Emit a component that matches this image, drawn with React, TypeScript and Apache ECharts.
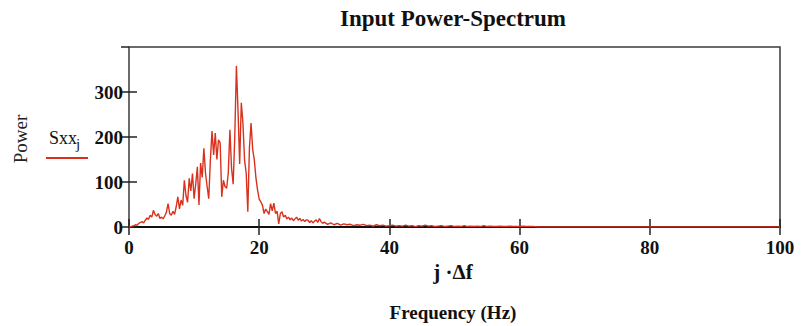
import React, { useEffect, useRef } from "react";
import * as echarts from "echarts";

// Power spectrum, 0..30 Hz at 0.25 Hz steps
const lowStart = 0;
const lowStep = 0.25;
const lowPower = [
  0, 1, 2, 3,
  5, 4, 8, 10,
  12, 9, 15, 20,
  17, 26, 22, 37,
  28, 24, 30, 19,
  22, 18, 25, 33,
  52, 30, 26, 35,
  28, 45, 67, 40,
  60, 48, 104, 70,
  55, 108, 80, 119,
  63, 95, 134, 49,
  142, 110, 175, 120,
  90, 63, 149, 213,
  160, 209, 150, 194,
  187, 67, 104, 90,
  86, 120, 216, 131,
  95, 201, 358, 257,
  140, 276, 231, 149,
  120, 34, 176, 231,
  172, 149, 109, 82,
  62, 56, 48, 30,
  40, 34, 28, 52,
  36, 53, 30, 35,
  7, 30, 34, 22,
  26, 18, 22, 16,
  20, 14, 18, 22,
  15, 19, 13, 17,
  12, 16, 15, 10,
  14, 9, 13, 16,
  10, 19, 12, 8,
  11,
];

// 30.5..62 Hz at 0.5 Hz steps
const midStart = 30.5;
const midStep = 0.5;
const midPower = [
  6, 9, 5, 8, 4, 7, 5, 6, 3, 5,
  4, 6, 3, 4, 2, 5, 3, 4, 2, 3,
  4, 2, 3, 2, 4, 2, 3, 1, 3, 2,
  4, 2, 3, 1, 2, 3, 1, 2, 3, 1,
  2, 1, 3, 1, 2, 1, 2, 1, 3, 1,
  2, 1, 1, 2, 1, 1, 2, 1, 1, 1,
  2, 1, 1, 1,
];

const tailFreq = [63, 100];
const tailPower = [0, 0];

const xTicks = [0, 20, 40, 60, 80, 100];
const yTicks = [0, 100, 200, 300];

const serif = "'Liberation Serif', 'Times New Roman', serif";

export default function App() {
  const ref = useRef<HTMLDivElement>(null);

  useEffect(() => {
    if (!ref.current) return;
    const chart = echarts.init(ref.current, null, { renderer: "svg" });

    const data: [number, number][] = [];
    lowPower.forEach((v, i) => data.push([lowStart + i * lowStep, v]));
    midPower.forEach((v, i) => data.push([midStart + i * midStep, v]));
    tailPower.forEach((v, i) => data.push([tailFreq[i], v]));

    const xMin = xTicks[0];
    const xMax = xTicks[xTicks.length - 1];
    const xInt = xTicks[1] - xTicks[0];
    const yInt = yTicks[1] - yTicks[0];

    const axisCommon = {
      axisLine: { show: false },
      splitLine: { show: false },
    };
    const tick = { show: true, inside: true, length: 8, lineStyle: { color: "#222", width: 1.5 } };

    chart.setOption({
      animation: false,
      backgroundColor: "#ffffff",
      grid: {
        left: 129,
        right: 21,
        top: 47,
        bottom: 99,
        show: true,
        borderColor: "#3a3a3a",
        borderWidth: 1.5,
        backgroundColor: "transparent",
      },
      xAxis: [
        {
          type: "value",
          min: xMin,
          max: xMax,
          interval: xInt,
          position: "bottom",
          ...axisCommon,
          axisLine: { show: true, onZero: false, lineStyle: { color: "#111", width: 2 } },
          axisTick: tick,
          axisLabel: {
            show: true,
            margin: 11,
            color: "#111",
            fontFamily: serif,
            fontSize: 19,
            fontWeight: "bold",
          },
        },
        {
          type: "value",
          min: xMin,
          max: xMax,
          interval: xInt,
          position: "top",
          ...axisCommon,
          axisTick: tick,
          axisLabel: { show: false },
        },
      ],
      yAxis: [
        {
          type: "value",
          min: 0,
          max: 400,
          interval: yInt,
          position: "left",
          ...axisCommon,
          axisTick: tick,
          axisLabel: {
            show: true,
            showMaxLabel: false,
            margin: 6,
            color: "#111",
            fontFamily: serif,
            fontSize: 19,
            fontWeight: "bold",
          },
        },
        {
          type: "value",
          min: 0,
          max: 400,
          interval: yInt,
          position: "right",
          ...axisCommon,
          axisTick: tick,
          axisLabel: { show: false },
        },
      ],
      series: [
        {
          type: "line",
          xAxisIndex: 0,
          yAxisIndex: 0,
          data,
          showSymbol: false,
          symbol: "none",
          clip: true,
          lineStyle: { color: "#d8321f", width: 1.4 },
          z: 3,
        },
      ],
      graphic: [
        {
          type: "text",
          x: 453,
          y: 18,
          style: {
            text: "Input Power-Spectrum",
            fontFamily: serif,
            fontSize: 23,
            fontWeight: "bold",
            fill: "#111",
            align: "center",
            verticalAlign: "middle",
          },
        },
        {
          type: "text",
          x: 453,
          y: 272,
          style: {
            text: "j ·Δf",
            fontFamily: serif,
            fontSize: 21,
            fontWeight: "bold",
            fill: "#111",
            align: "center",
            verticalAlign: "middle",
          },
        },
        {
          type: "text",
          x: 453,
          y: 312,
          style: {
            text: "Frequency (Hz)",
            fontFamily: serif,
            fontSize: 19,
            fontWeight: "bold",
            fill: "#111",
            align: "center",
            verticalAlign: "middle",
          },
        },
        {
          type: "text",
          x: 20,
          y: 139,
          rotation: Math.PI / 2,
          style: {
            text: "Power",
            fontFamily: serif,
            fontSize: 19,
            fill: "#222",
            align: "center",
            verticalAlign: "middle",
          },
        },
        {
          type: "text",
          x: 49,
          y: 138,
          style: {
            text: "Sxx",
            fontFamily: serif,
            fontSize: 18,
            fill: "#111",
            align: "left",
            verticalAlign: "middle",
          },
        },
        {
          type: "text",
          x: 76,
          y: 144,
          style: {
            text: "j",
            fontFamily: serif,
            fontSize: 15,
            fill: "#111",
            align: "left",
            verticalAlign: "middle",
          },
        },
        {
          type: "line",
          shape: { x1: 46, y1: 158, x2: 88, y2: 158 },
          style: { stroke: "#d8321f", lineWidth: 2 },
        },
      ],
    });

    return () => chart.dispose();
  }, []);

  return (
    <div
      ref={ref}
      style={{ position: "fixed", left: 0, top: 0, width: 801, height: 326 }}
    />
  );
}
